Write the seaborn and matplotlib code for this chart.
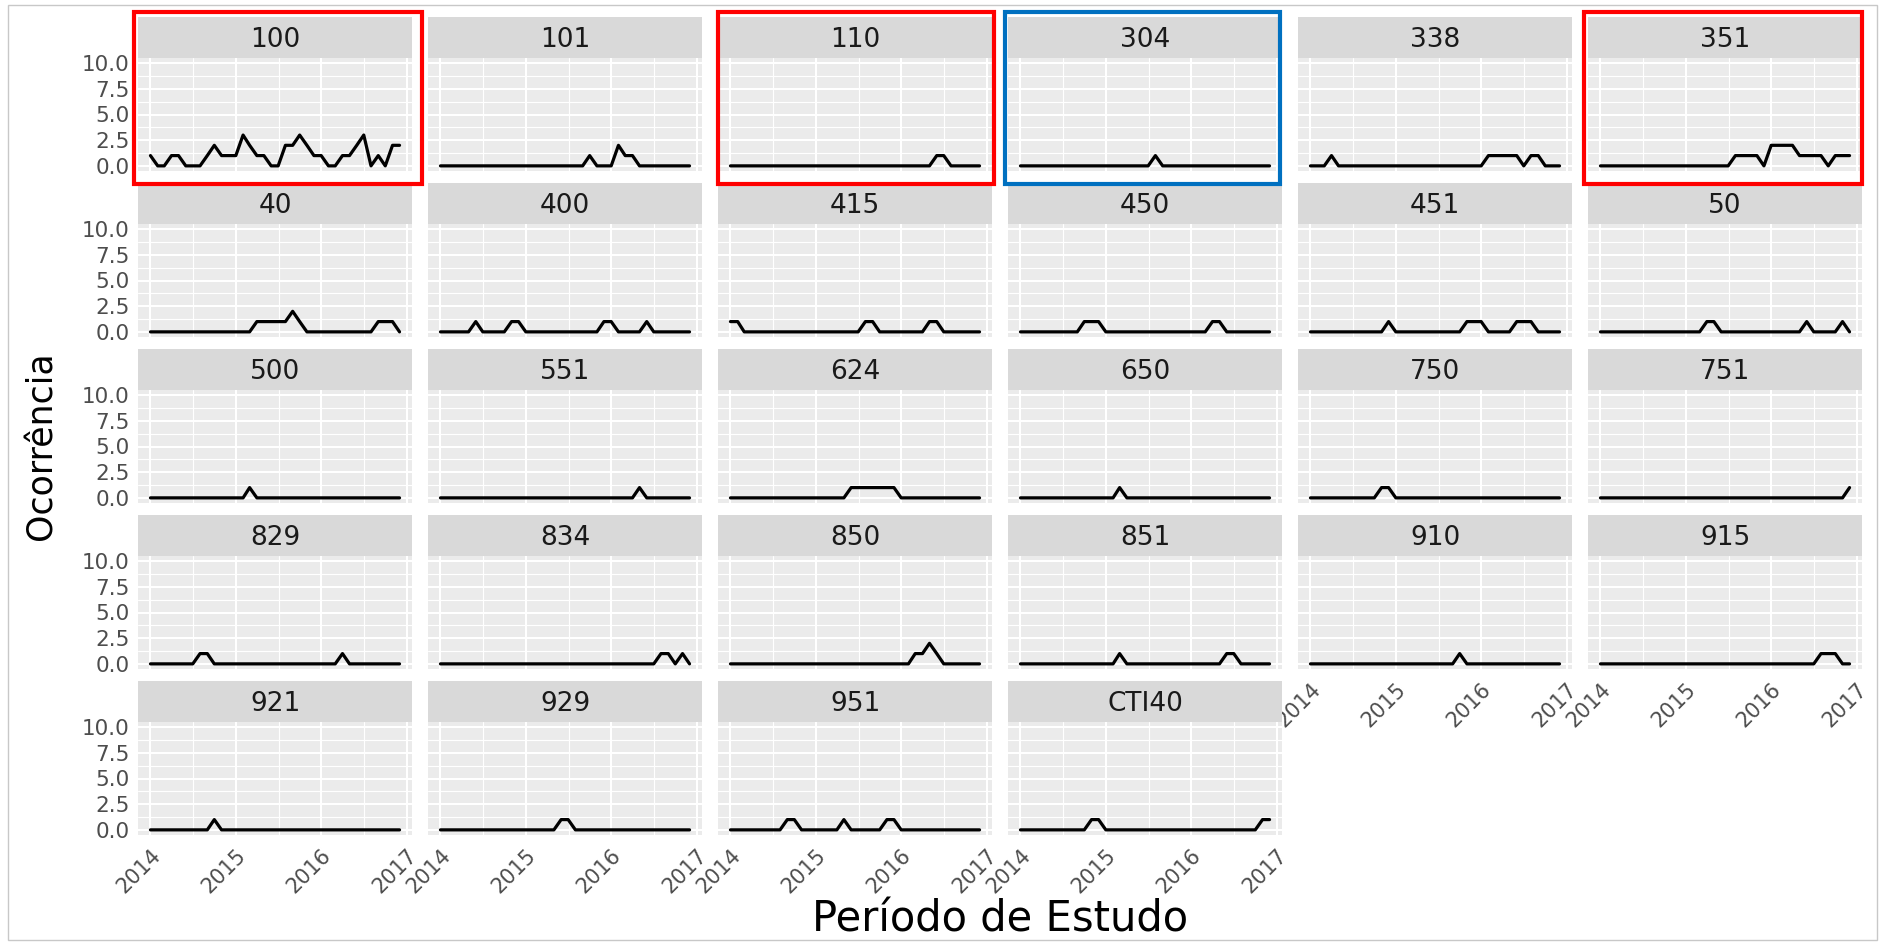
import numpy as np
import pandas as pd
import matplotlib
matplotlib.use("Agg")
import matplotlib.pyplot as plt
import matplotlib.dates as mdates
from matplotlib.patches import Rectangle
import seaborn as sns

# ---------------- data ----------------
facets = ["100", "101", "110", "304", "338", "351",
          "40", "400", "415", "450", "451", "50",
          "500", "551", "624", "650", "750", "751",
          "829", "834", "850", "851", "910", "915",
          "921", "929", "951", "CTI40"]

#            2014                      | 2015                      | 2016
v100   = [1,0,0,1,1,0,0,0,1,2,1,1, 1,3,2,1,1,0,0,2,2,3,2,1, 1,0,0,1,1,2,3,0,1,0,2,2]
v101   = [0,0,0,0,0,0,0,0,0,0,0,0, 0,0,0,0,0,0,0,0,0,1,0,0, 0,2,1,1,0,0,0,0,0,0,0,0]
v110   = [0,0,0,0,0,0,0,0,0,0,0,0, 0,0,0,0,0,0,0,0,0,0,0,0, 0,0,0,0,0,1,1,0,0,0,0,0]
v304   = [0,0,0,0,0,0,0,0,0,0,0,0, 0,0,0,0,0,0,0,1,0,0,0,0, 0,0,0,0,0,0,0,0,0,0,0,0]
v338   = [0,0,0,1,0,0,0,0,0,0,0,0, 0,0,0,0,0,0,0,0,0,0,0,0, 0,1,1,1,1,1,0,1,1,0,0,0]
v351   = [0,0,0,0,0,0,0,0,0,0,0,0, 0,0,0,0,0,0,0,1,1,1,1,0, 2,2,2,2,1,1,1,1,0,1,1,1]
v40    = [0,0,0,0,0,0,0,0,0,0,0,0, 0,0,0,1,1,1,1,1,2,1,0,0, 0,0,0,0,0,0,0,0,1,1,1,0]
v400   = [0,0,0,0,0,1,0,0,0,0,1,1, 0,0,0,0,0,0,0,0,0,0,0,1, 1,0,0,0,0,1,0,0,0,0,0,0]
v415   = [1,1,0,0,0,0,0,0,0,0,0,0, 0,0,0,0,0,0,0,1,1,0,0,0, 0,0,0,0,1,1,0,0,0,0,0,0]
v450   = [0,0,0,0,0,0,0,0,0,1,1,1, 0,0,0,0,0,0,0,0,0,0,0,0, 0,0,0,1,1,0,0,0,0,0,0,0]
v451   = [0,0,0,0,0,0,0,0,0,0,0,1, 0,0,0,0,0,0,0,0,0,0,1,1, 1,0,0,0,0,1,1,1,0,0,0,0]
v50    = [0,0,0,0,0,0,0,0,0,0,0,0, 0,0,0,1,1,0,0,0,0,0,0,0, 0,0,0,0,0,1,0,0,0,0,1,0]
v500   = [0,0,0,0,0,0,0,0,0,0,0,0, 0,0,1,0,0,0,0,0,0,0,0,0, 0,0,0,0,0,0,0,0,0,0,0,0]
v551   = [0,0,0,0,0,0,0,0,0,0,0,0, 0,0,0,0,0,0,0,0,0,0,0,0, 0,0,0,0,1,0,0,0,0,0,0,0]
v624   = [0,0,0,0,0,0,0,0,0,0,0,0, 0,0,0,0,0,1,1,1,1,1,1,1, 0,0,0,0,0,0,0,0,0,0,0,0]
v650   = [0,0,0,0,0,0,0,0,0,0,0,0, 0,0,1,0,0,0,0,0,0,0,0,0, 0,0,0,0,0,0,0,0,0,0,0,0]
v750   = [0,0,0,0,0,0,0,0,0,0,1,1, 0,0,0,0,0,0,0,0,0,0,0,0, 0,0,0,0,0,0,0,0,0,0,0,0]
v751   = [0,0,0,0,0,0,0,0,0,0,0,0, 0,0,0,0,0,0,0,0,0,0,0,0, 0,0,0,0,0,0,0,0,0,0,0,1]
v829   = [0,0,0,0,0,0,0,1,1,0,0,0, 0,0,0,0,0,0,0,0,0,0,0,0, 0,0,0,1,0,0,0,0,0,0,0,0]
v834   = [0,0,0,0,0,0,0,0,0,0,0,0, 0,0,0,0,0,0,0,0,0,0,0,0, 0,0,0,0,0,0,0,1,1,0,1,0]
v850   = [0,0,0,0,0,0,0,0,0,0,0,0, 0,0,0,0,0,0,0,0,0,0,0,0, 0,0,1,1,2,1,0,0,0,0,0,0]
v851   = [0,0,0,0,0,0,0,0,0,0,0,0, 0,0,1,0,0,0,0,0,0,0,0,0, 0,0,0,0,0,1,1,0,0,0,0,0]
v910   = [0,0,0,0,0,0,0,0,0,0,0,0, 0,0,0,0,0,0,0,0,0,1,0,0, 0,0,0,0,0,0,0,0,0,0,0,0]
v915   = [0,0,0,0,0,0,0,0,0,0,0,0, 0,0,0,0,0,0,0,0,0,0,0,0, 0,0,0,0,0,0,0,1,1,1,0,0]
v921   = [0,0,0,0,0,0,0,0,0,1,0,0, 0,0,0,0,0,0,0,0,0,0,0,0, 0,0,0,0,0,0,0,0,0,0,0,0]
v929   = [0,0,0,0,0,0,0,0,0,0,0,0, 0,0,0,0,0,1,1,0,0,0,0,0, 0,0,0,0,0,0,0,0,0,0,0,0]
v951   = [0,0,0,0,0,0,0,0,1,1,0,0, 0,0,0,0,1,0,0,0,0,0,1,1, 0,0,0,0,0,0,0,0,0,0,0,0]
vCTI40 = [0,0,0,0,0,0,0,0,0,0,1,1, 0,0,0,0,0,0,0,0,0,0,0,0, 0,0,0,0,0,0,0,0,0,0,1,1]

series = [v100, v101, v110, v304, v338, v351,
          v40, v400, v415, v450, v451, v50,
          v500, v551, v624, v650, v750, v751,
          v829, v834, v850, v851, v910, v915,
          v921, v929, v951, vCTI40]

months = pd.date_range("2014-01-01", periods=36, freq="MS")
year_ticks = pd.to_datetime(["2014-01-01", "2015-01-01", "2016-01-01", "2017-01-01"])
year_labels = ["2014", "2015", "2016", "2017"]
y_ticks = [0, 2.5, 5, 7.5, 10]
y_labels = ["0.0", "2.5", "5.0", "7.5", "10.0"]
highlight_red = ["100", "110", "351"]
highlight_blue = ["304"]

df = pd.concat([pd.DataFrame({"facet": f, "date": months, "value": v})
                for f, v in zip(facets, series)], ignore_index=True)

# ---------------- style ----------------
sns.set_theme(style="white")
plt.rcParams["font.family"] = ["DejaVu Sans"]

W, H = 1885, 944
fig = plt.figure(figsize=(W / 100, H / 100), dpi=100)
fig.patch.set_facecolor("white")


def rect(x, y, w, h):
    return [x / W, 1 - (y + h) / H, w / W, h / H]


ncol = 6
n = len(facets)
x0, pitch_x, pw = 138, 290, 274
y0, pitch_y, sh, ph = 17, 166, 41, 113

num = mdates.date2num
xmin, xmax = num(months[0]), num(months[-1])
span = xmax - xmin
xlim = (xmin - 0.05 * span, xmax + 0.05 * span)
major_x = [num(d) for d in year_ticks]
minor_x = [(major_x[i] + major_x[i + 1]) / 2 for i in range(3)]
minor_y = [1.25, 3.75, 6.25, 8.75]

tick_col = "#4D4D4D"

for i, f in enumerate(facets):
    r, c = divmod(i, ncol)
    px = x0 + pitch_x * c
    st = y0 + pitch_y * r
    ax = fig.add_axes(rect(px, st + sh, pw, ph))
    sub = df[df["facet"] == f]
    sns.lineplot(data=sub, x="date", y="value", ax=ax, color="black",
                 linewidth=2.3, estimator=None)
    ax.set_facecolor("#EBEBEB")
    ax.set_xlim(*xlim)
    ax.set_ylim(-0.5, 10.5)
    ax.set_xticks(major_x)
    ax.set_xticks(minor_x, minor=True)
    ax.set_yticks(y_ticks)
    ax.set_yticks(minor_y, minor=True)
    ax.grid(which="major", color="white", linewidth=1.5)
    ax.grid(which="minor", color="white", linewidth=0.8)
    ax.set_axisbelow(True)
    for s in ax.spines.values():
        s.set_visible(False)
    ax.set_xlabel("")
    ax.set_ylabel("")
    is_left = (c == 0)
    is_bottom = (i + ncol >= n)
    ax.tick_params(which="minor", length=0)
    if is_left:
        ax.set_yticklabels(y_labels)
        ax.tick_params(axis="y", which="major", length=4, width=1.1,
                       color="#333333", labelsize=15.5, labelcolor=tick_col, pad=2)
    else:
        ax.set_yticklabels([])
        ax.tick_params(axis="y", which="major", length=0)
    if is_bottom:
        ax.set_xticklabels(year_labels, rotation=45, ha="right",
                           rotation_mode="anchor")
        ax.tick_params(axis="x", which="major", length=4, width=1.1,
                       color="#333333", labelsize=15, labelcolor=tick_col, pad=3)
    else:
        ax.set_xticklabels([])
        ax.tick_params(axis="x", which="major", length=0)

    sax = fig.add_axes(rect(px, st, pw, sh))
    sax.set_facecolor("#D9D9D9")
    sax.set_xticks([])
    sax.set_yticks([])
    for s in sax.spines.values():
        s.set_visible(False)
    sax.text(0.5, 0.45, f, ha="center", va="center", fontsize=19,
             color="#1A1A1A", transform=sax.transAxes)

# axis titles
fig.text(42 / W, 1 - 446 / H, "Ocorrência", rotation=90, ha="center",
         va="center", fontsize=25, color="black")
fig.text(1000 / W, 1 - 920 / H, "Período de Estudo", ha="center",
         va="center", fontsize=30, color="black")

# highlight boxes
boxes = {"100": (134, 12, 422, 184), "110": (718, 12, 994, 184),
         "304": (1005, 12, 1280, 184), "351": (1584, 12, 1862, 184)}
for f, (bx0, by0, bx1, by1) in boxes.items():
    col = "#FF0000" if f in highlight_red else "#0070C0"
    fig.add_artist(Rectangle((bx0 / W, 1 - by1 / H), (bx1 - bx0) / W,
                             (by1 - by0) / H, transform=fig.transFigure,
                             fill=False, edgecolor=col, linewidth=3))

# outer frame
fig.add_artist(Rectangle((8 / W, 1 - 940 / H), (1877 - 8) / W, (940 - 5) / H,
                         transform=fig.transFigure, fill=False,
                         edgecolor="#C8C8C8", linewidth=1))

fig.savefig("out.png", dpi=100, facecolor="white")
